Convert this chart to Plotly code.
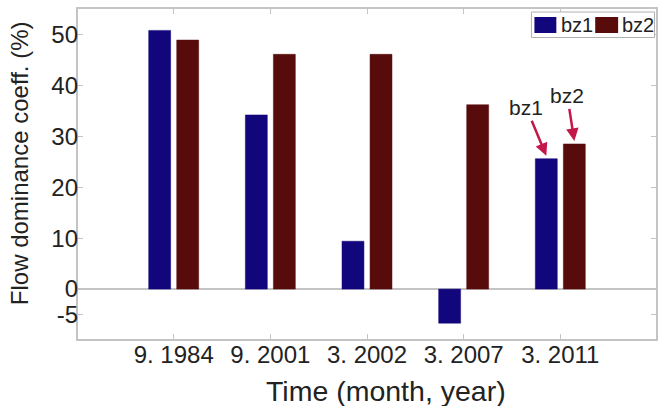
import plotly.graph_objects as go

# ---- data ----
categories = ["9. 1984", "9. 2001", "3. 2002", "3. 2007", "3. 2011"]
series_names = ["bz1", "bz2"]
bz1 = [50.8, 34.2, 9.4, -6.7, 25.6]
bz2 = [48.9, 46.1, 46.1, 36.2, 28.5]
y_ticks = [-5, 0, 10, 20, 30, 40, 50]
y_range = [-9.8, 55]
colors = ["#12067c", "#570b0b"]

W, H = 658, 406
ML, MR, MT, MB = 78, 0, 9, 67
PW, PH = W - ML - MR, H - MT - MB

def px(x):
    return (x - ML) / PW

def py(y):
    return (H - MB - y) / PH

FONT = "Liberation Sans, Arial, sans-serif"
GRID = "#c4c4c4"
TXT = "#222222"

BAR_W = 0.227
offsets = [-0.145 - BAR_W / 2, 0.145 - BAR_W / 2]
axes_for = ["y", "y2"]

fig = go.Figure()
for name, vals, col, off, ya in zip(series_names, [bz1, bz2], colors, offsets, axes_for):
    fig.add_trace(go.Bar(x=categories, y=vals, name=name, yaxis=ya, width=BAR_W, offset=off,
                         marker=dict(color=col, line=dict(color=col, width=0.5)), showlegend=False))

fig.update_layout(
    width=W, height=H,
    margin=dict(l=ML, r=MR, t=MT, b=MB),
    paper_bgcolor="white", plot_bgcolor="white",
    barmode="overlay",
    font=dict(family=FONT, color=TXT),
    xaxis=dict(
        range=[-0.99, 4.99], showgrid=False, showline=True, linecolor=GRID, linewidth=1.5, mirror="ticks",
        ticks="inside", ticklen=5, tickcolor=GRID, tickfont=dict(size=24, color=TXT),
        ticklabelstandoff=-7,
    ),
    yaxis=dict(
        range=y_range, tickvals=y_ticks, showticklabels=False, showgrid=False,
        showline=True, linecolor=GRID, linewidth=1.5, mirror="ticks", ticks="inside", ticklen=5, tickcolor=GRID,
        zeroline=True, zerolinecolor=GRID, zerolinewidth=1.5,
    ),
    # label-only axis, placed so the tick labels sit close to the left spine
    yaxis2=dict(
        overlaying="y", anchor="free", position=0, side="left",
        range=y_range, tickvals=y_ticks, ticktext=[str(v) for v in y_ticks],
        showgrid=False, zeroline=False, showline=False, ticks="",
        tickfont=dict(size=24, color=TXT), ticklabelstandoff=0,
    ),
)

# axis titles
fig.add_annotation(text="Time (month, year)", xref="paper", yref="paper", x=px(387), y=py(391),
                   xanchor="center", yanchor="middle", showarrow=False, font=dict(size=28.5, color=TXT))
fig.add_annotation(text="Flow dominance coeff. (%)", xref="paper", yref="paper", x=px(19), y=py(163),
                   xanchor="center", yanchor="middle", textangle=-90, showarrow=False,
                   font=dict(size=24, color=TXT))

# arrows with labels
arrow_col = "#c2184a"
fig.add_annotation(text="bz1", x=categories[4], y=bz1[4] + 0.6, xref="x", yref="y", xshift=-14,
                   ax=-20, ay=-48, showarrow=True, arrowhead=2, arrowsize=1, arrowwidth=2.5,
                   arrowcolor=arrow_col, font=dict(size=21, color=TXT))
fig.add_annotation(text="bz2", x=categories[4], y=bz2[4] + 0.6, xref="x", yref="y", xshift=14,
                   ax=-7, ay=-45, showarrow=True, arrowhead=2, arrowsize=1, arrowwidth=2.5,
                   arrowcolor=arrow_col, font=dict(size=21, color=TXT))

# legend box
fig.add_shape(type="rect", xref="paper", yref="paper", x0=px(533), x1=px(656.5), y0=py(37.5), y1=py(12),
              line=dict(color="#b0b0b0", width=1), fillcolor="white", layer="above")
sw = [(536, 558, 561), (597, 620, 622)]
for (x0, x1, tx), name, col in zip(sw, series_names, colors):
    fig.add_shape(type="rect", xref="paper", yref="paper", x0=px(x0), x1=px(x1), y0=py(33), y1=py(17),
                  line=dict(color=col, width=0), fillcolor=col, layer="above")
    fig.add_annotation(text=name, xref="paper", yref="paper", x=px(tx), y=py(25), xanchor="left",
                       yanchor="middle", showarrow=False, font=dict(size=20, color=TXT))

fig.write_html("out.html")
